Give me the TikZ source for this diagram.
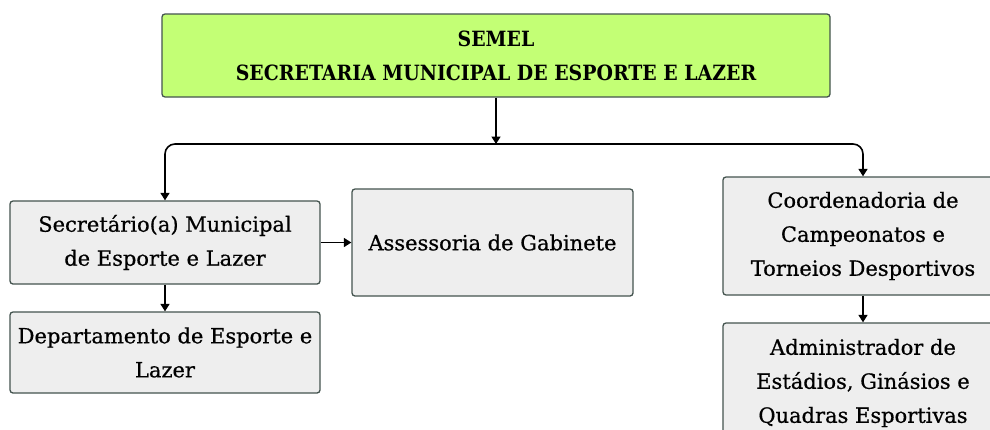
\documentclass[tikz,border=0pt]{standalone}
\usepackage{fontspec}
\setmainfont{DejaVu Serif}[FakeBold=0.6]
\newfontfamily\topfont{DejaVu Serif Condensed}
\usetikzlibrary{arrows.meta,calc}
\definecolor{boxgray}{HTML}{EEEEEE}
\definecolor{boxline}{HTML}{44544F}
\definecolor{topgreen}{HTML}{C3FF75}
\tikzset{
  box/.style={draw=boxline, line width=1.3pt, fill=boxgray, rounded corners=3pt,
    inner sep=0pt, align=center, font=\fontsize{21}{34}\selectfont},
  topbox/.style={box, fill=topgreen, font=\topfont\bfseries\fontsize{21}{34}\selectfont},
  arr/.style={line width=1.6pt, -{Triangle[length=7.5pt,width=9pt]}},
}
\begin{document}
\begin{tikzpicture}[x=1pt,y=-1pt]
\useasboundingbox (0,0) rectangle (990,429);
\clip (0,0) rectangle (990,429);
\fill[white] (0,0) rectangle (990,429);
\node[topbox, minimum width=668pt, minimum height=83pt] (top) at (496,55.5)
  {SEMEL\\SECRETARIA MUNICIPAL DE ESPORTE E LAZER};
\node[box, minimum width=310pt, minimum height=83pt] (sec) at (165,242.5)
  {Secretário(a) Municipal\\de Esporte e Lazer};
\node[box, minimum width=310pt, minimum height=81pt] (dep) at (165,352.5)
  {Departamento de Esporte e\\Lazer};
\node[box, minimum width=281pt, minimum height=107pt] (ass) at (492.5,242.5)
  {Assessoria de Gabinete};
\node[box, minimum width=280pt, minimum height=118pt] (coo) at (863,236)
  {Coordenadoria de\\Campeonatos e\\Torneios Desportivos};
\node[box, minimum width=280pt, minimum height=120pt] (adm) at (863,383)
  {Administrador de\\Estádios, Ginásios e\\Quadras Esportivas};
\coordinate (jc) at (496,144);
\draw[arr] (top.south) -- (jc);
\draw[arr, rounded corners=10pt] (jc) -| (sec.north);
\draw[arr, rounded corners=10pt] (jc) -| (coo.north);
\draw[arr] (sec.south) -- (dep.north);
\draw[arr] (sec.east) -- (ass.west);
\draw[arr] (coo.south) -- (adm.north);
\end{tikzpicture}
\end{document}
